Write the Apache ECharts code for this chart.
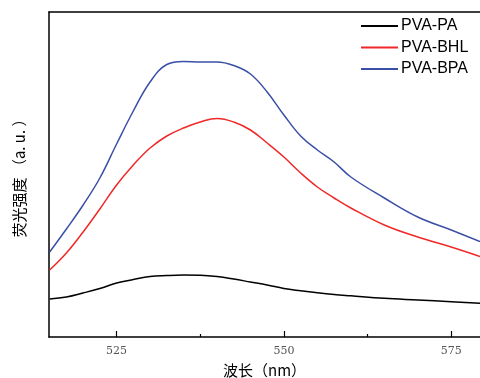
<!DOCTYPE html>
<html>
<head>
<meta charset="utf-8">
<script src="https://cdn.jsdelivr.net/npm/echarts@6/dist/echarts.min.js"></script>
<style>
  html, body { margin: 0; padding: 0; background: #fff; }
  #chart { width: 480px; height: 378px; }
</style>
</head>
<body>
<div id="chart"></div>
<script>
// wavelength (nm)
var wavelength = [515, 517.5, 520, 522.5, 525, 527.5, 530, 532.5, 535, 537.5, 540, 542.5, 545, 547.5, 550, 552.5, 555, 557.5, 560, 565, 570, 575, 579.3];
// intensity (a.u.)
var pvaPA  = [38, 40, 44, 48.5, 54, 57.5, 60.5, 61.5, 62, 61.8, 60.5, 58, 55, 52, 48.5, 46.2, 44.2, 42.5, 41.2, 38.7, 37, 35.3, 33.7];
var pvaBHL = [67, 84, 105, 128, 152, 172, 189, 201, 209, 215, 218.5, 215, 207, 194, 180, 164, 150, 139, 129, 112, 100, 90, 80.5];
var pvaBPA = [85, 108, 132, 159, 193, 226, 255, 272.5, 275.5, 275, 275, 271.5, 263, 245, 222, 201, 187, 175, 160, 139, 120, 107, 95.5];
var majorTicks = [525, 550, 575];
var minorTicks = [537.5, 562.5];

function pairs(xs, ys) {
  return xs.map(function (x, i) { return [x, ys[i]]; });
}

var chart = echarts.init(document.getElementById('chart'));

chart.setOption({
  animation: false,
  grid: { left: 49, top: 12, right: 0, bottom: 41, outerBoundsMode: 'none' },
  legend: {
    orient: 'vertical',
    left: 356,
    top: 13,
    itemWidth: 37,
    itemHeight: 2,
    itemGap: 5.5,
    icon: 'rect',
    textStyle: { fontFamily: 'Liberation Sans', fontSize: 16, color: '#000', padding: [0, 0, 0, -2] },
    data: ['PVA-PA', 'PVA-BHL', 'PVA-BPA']
  },
  xAxis: [
    {
      type: 'value',
      min: 514.9,
      max: 579.3,
      name: '波长（nm）',
      nameLocation: 'middle',
      nameGap: 26,
      nameTextStyle: { fontFamily: 'Noto Sans CJK SC', fontSize: 15, color: '#000' },
      axisLine: { lineStyle: { color: '#000', width: 1.5 } },
      axisTick: { inside: true, length: 6, customValues: majorTicks, lineStyle: { color: '#000', width: 1.2 } },
      axisLabel: { customValues: majorTicks, fontFamily: 'DejaVu Serif', fontSize: 11, color: '#555', margin: 9 },
      splitLine: { show: false }
    },
    {
      type: 'value',
      min: 514.9,
      max: 579.3,
      position: 'bottom',
      axisLine: { show: false },
      axisTick: { inside: true, length: 3, customValues: minorTicks, lineStyle: { color: '#000', width: 1.2 } },
      axisLabel: { show: false },
      splitLine: { show: false }
    },
    {
      type: 'value',
      min: 514.9,
      max: 579.3,
      position: 'top',
      axisLine: { lineStyle: { color: '#000', width: 1.5 } },
      axisTick: { show: false },
      axisLabel: { show: false },
      splitLine: { show: false }
    }
  ],
  yAxis: {
    type: 'value',
    min: 0,
    max: 325,
    name: '荧光强度 （a. u. ）',
    nameLocation: 'middle',
    nameRotate: 90,
    nameGap: 22,
    nameTextStyle: { fontFamily: 'Noto Sans CJK SC', fontSize: 15, color: '#000' },
    axisLine: { show: true, lineStyle: { color: '#000', width: 1.5 } },
    axisTick: { show: false },
    axisLabel: { show: false },
    splitLine: { show: false }
  },
  series: [
    { name: 'PVA-PA', type: 'line', smooth: 0.4, showSymbol: false, data: pairs(wavelength, pvaPA),
      lineStyle: { color: '#000', width: 1.5 }, itemStyle: { color: '#000' } },
    { name: 'PVA-BHL', type: 'line', smooth: 0.4, showSymbol: false, data: pairs(wavelength, pvaBHL),
      lineStyle: { color: '#f02828', width: 1.5 }, itemStyle: { color: '#f02828' } },
    { name: 'PVA-BPA', type: 'line', smooth: 0.4, showSymbol: false, data: pairs(wavelength, pvaBPA),
      lineStyle: { color: '#3a4fa6', width: 1.5 }, itemStyle: { color: '#3a4fa6' } }
  ]
});
</script>
</body>
</html>
